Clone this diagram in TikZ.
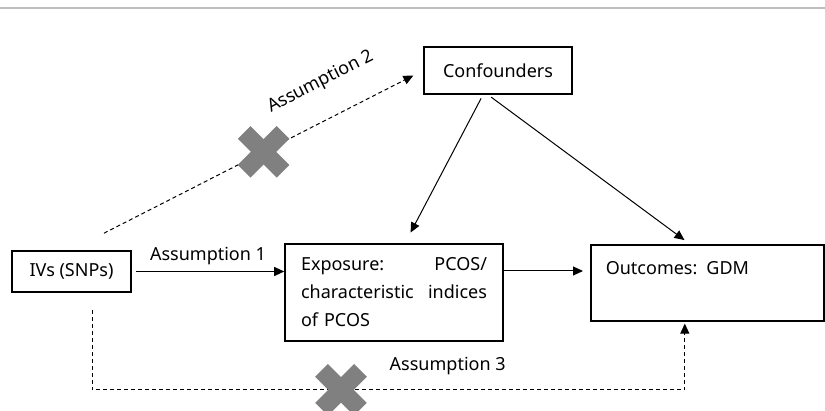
\documentclass[tikz,border=0pt]{standalone}
\usepackage{fontspec}
\setmainfont{Noto Sans}
\usetikzlibrary{positioning, arrows.meta}
\definecolor{mrgray}{RGB}{128, 128, 128}
\definecolor{ruleline}{RGB}{190, 190, 190}
\tikzset{
    box/.style={draw, line width=0.8pt, font=\fontsize{9}{14}\selectfont, inner sep=0pt},
    arr/.style={line width=0.5pt, -{Triangle[length=5pt, width=4.5pt]}},
    dasharr/.style={arr, dash pattern=on 2pt off 1.5pt},
    lbl/.style={font=\fontsize{9}{11}\selectfont},
    nocross/.pic={
        \fill[mrgray, rotate=45] (-13.75pt,-4.5pt) rectangle (13.75pt,4.5pt);
        \fill[mrgray, rotate=-45] (-13.75pt,-4.5pt) rectangle (13.75pt,4.5pt);
    }
}
\begin{document}
\begin{tikzpicture}[x=0.5pt, y=-0.5pt]
                \useasboundingbox (0,0) rectangle (825,411);
                \draw[ruleline, line width=0.75pt] (0,8) -- (825,8);
                % boxes
                \node[box, minimum width=59.5pt, minimum height=20.5pt] (ivs) at (71.5,271.5) {IVs (SNPs)};
                \node[box, minimum width=74pt, minimum height=23.5pt] (conf) at (498,70.5) {Confounders};
                \node[box, text width=93pt, inner xsep=8pt, minimum height=48.5pt, align=left] (expo) at (394,292.5)
                    {\baselineskip=14pt Exposure:\hfill PCOS/\\characteristic\hfill indices\\of PCOS\par};
                \node[box, anchor=north west, text width=101.5pt, inner xsep=7.5pt, text height=15pt, text depth=23pt, align=left] (outc) at (590,244)
                    {Outcomes:\enspace GDM};
                % solid arrows
                \draw[arr, shorten <=2pt] (ivs.east) -- (ivs.east -| expo.west) node[lbl, midway, above] {Assumption 1};
                \coordinate (e1) at ([yshift=10.75pt]expo.east);
                \draw[arr, shorten >=3.5pt] (e1) -- (e1 -| outc.west);
                \draw[arr, shorten <=2pt, shorten >=6pt] ([xshift=-7.5pt]conf.south) -- ([xshift=5.5pt]expo.north);
                \draw[arr, shorten <=2pt, shorten >=3.3pt] ([xshift=-5pt]conf.south) -- ([xshift=-8.75pt]outc.north);
                % assumption 2
                \coordinate (a2) at ([xshift=16.25pt, yshift=8.5pt]ivs.north);
                \draw[dasharr, shorten >=5.5pt] (a2) -- coordinate[pos=0.5] (x2) (conf.west)
                    node[lbl, pos=0.73, sloped, above=10pt] {Assumption 2};
                \pic at (x2) {nocross};
                % assumption 3
                \coordinate (a3) at ([xshift=10.25pt, yshift=-8.5pt]ivs.south);
                \coordinate (a3end) at ([xshift=-11.25pt]outc.south);
                \draw[dasharr, shorten >=1pt] (a3) -- ++(0,80) -| coordinate[pos=0.21] (x3)
                    node[lbl, pos=0.3, above=4pt] {Assumption 3} (a3end);
                \pic at (x3) {nocross};
            \end{tikzpicture}
\end{document}
